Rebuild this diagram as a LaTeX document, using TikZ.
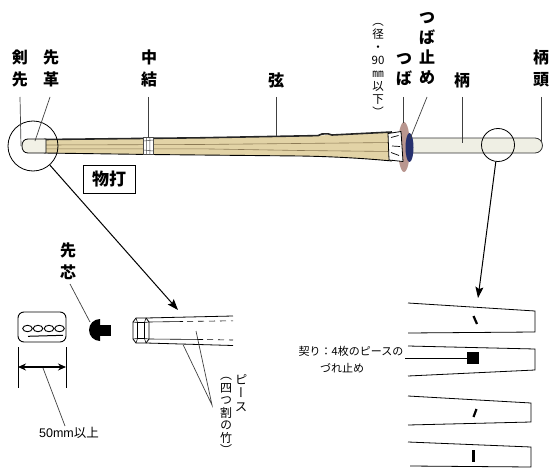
\documentclass[tikz,border=0pt]{standalone}
\usepackage{fontspec}
\usetikzlibrary{arrows.meta}
\newfontfamily\jp{Noto Sans CJK JP}
\newfontfamily\jpv[RawFeature=+vert]{Noto Sans CJK JP}
\newfontfamily\lat{Liberation Sans}
\definecolor{bamboo}{HTML}{E2D3A6}
\definecolor{seamcol}{HTML}{8C7A55}
\definecolor{capcol}{HTML}{F2F1E6}
\definecolor{gripcol}{HTML}{EFEFE4}
\definecolor{guardcol}{HTML}{B9968F}
\definecolor{stopcol}{HTML}{27316E}
\begin{document}
\begin{tikzpicture}[x=1pt,y=-1pt,
  leader/.style={draw=black!75,line width=0.7pt},
  outline/.style={draw=black,line width=0.8pt},
  seam/.style={draw=seamcol,line width=0.6pt},
  lbl/.style={font=\jp\bfseries\fontsize{16}{22.5}\selectfont,align=center,inner sep=0pt},
  vlbl/.style={font=\jp\bfseries\fontsize{16}{20}\selectfont,align=center,inner sep=0pt},
  small/.style={font=\jp\fontsize{11}{13}\selectfont,align=center,inner sep=0pt},
  vsmall/.style={font=\jpv\fontsize{11.5}{13}\selectfont,align=center,inner sep=0pt},
  arr/.style={line width=1pt,-{Stealth[length=11pt,width=8pt,inset=2pt]}},
  piece/.style={draw=black,line width=0.8pt},
  notch/.style={line width=2.2pt}]
\useasboundingbox (0,0) rectangle (551,468);

% ---------------- shinai: bamboo blade ----------------
\fill[bamboo] (44,139.5) -- (200,138) -- (320,135.5) -- (392,132) -- (392,161)
  .. controls (360,158) and (330,156.5) .. (300,156) -- (150,154.5) -- (44,153) -- cycle;
\draw[seam] (46,145) -- (200,144.5) -- (392,142.5);
\draw[seam] (46,148.8) -- (200,148.8) -- (300,150.5) -- (392,151.5);
\draw[outline,line width=0.9pt] (44,153) -- (150,154.5) -- (300,156)
  .. controls (330,156.5) and (360,158) .. (392,161);
% string along the top
\draw[line width=1.6pt,black!85] (44,139.5) -- (200,137.8) -- (318,135.6)
  -- (322,134) -- (328,133.8) -- (332,135) -- (392,132);

% middle tie
\filldraw[fill=white,draw=black!70,line width=0.5pt] (143.5,137.5) rectangle (153,154.5);
\draw[black!70,line width=0.5pt] (146.5,137.5) -- (146.5,154.5) (149.8,137.5) -- (149.8,154.5)
  (143.5,141) -- (153,140) (143.5,150) -- (153,151);

% tip leather cap
\filldraw[fill=capcol,draw=black,line width=0.8pt] (46,139) -- (28,139)
  .. controls (24,139) and (22,142) .. (22,146) .. controls (22,150) and (24,153) .. (28,153)
  -- (46,153) -- cycle;

% ---------------- guard, grip ----------------
\fill[guardcol] (404,147) ellipse (6 and 25);
\filldraw[fill=gripcol,draw=black!80,line width=0.8pt] (410,138) -- (535,138)
  arc[start angle=-90,end angle=90,radius=7.5] -- (410,153) -- cycle;
\fill[stopcol] (409.5,147.5) ellipse (4 and 14.5);
\filldraw[fill=white,draw=black,line width=0.8pt] (388,133.5) -- (401,131.5) -- (403,161.5) -- (389,160) -- cycle;
\draw[black,line width=0.7pt] (391,137.5) -- (398.5,135.5) (392,146) -- (400,146.5) (391,152.5) -- (399,155.5);

% magnifying rings
\node[circle,outline,minimum size=50pt,inner sep=0pt] (tipring) at (33,146) {};
\node[circle,outline,minimum size=33pt,inner sep=0pt] (gripring) at (498,145) {};

% ---------------- top labels ----------------
\node[lbl] (kensen) at (20,68.5) {剣\\先};
\node[lbl] (sakigawa) at (51,68.5) {先\\革};
\node[lbl] (nakayui) at (149,68.5) {中\\結};
\node[lbl] (tsuru) at (276,80) {弦};
\node[vlbl] (tsuba) at (404,69.5) {つ\\ば};
\node[vlbl] (tsubadome) at (427,48.5) {つ\\ば\\止\\め};
\node[lbl] (tsuka) at (462,80) {柄};
\node[lbl] (tsukagashira) at (541,68.5) {柄\\頭};
\node[vsmall] (tsubasize) at (378,70) {（\\径\\・\\90\\㎜\\以\\下\\）};

\coordinate (kensenTop) at (20,97);
\coordinate (kensenEnd) at (21,146);
\coordinate (sakigawaTop) at (50,97);
\coordinate (sakigawaEnd) at (35,141);
\coordinate (nakayuiTop) at (148.5,97);
\coordinate (nakayuiEnd) at (148.5,138);
\coordinate (tsuruTop) at (276,97);
\coordinate (tsuruEnd) at (276,136);
\coordinate (tsubaTop) at (403,97);
\coordinate (tsubaEnd) at (403,123);
\coordinate (tsubadomeTop) at (427,97);
\coordinate (tsubadomeEnd) at (410,139);
\coordinate (tsukaTop) at (462,97);
\coordinate (tsukaEnd) at (462,143);
\coordinate (tsukagashiraTop) at (541,97);
\coordinate (tsukagashiraEnd) at (541,142);

\draw[leader] (kensenTop) -- (kensenEnd);
\draw[leader] (sakigawaTop) -- (sakigawaEnd);
\draw[leader] (nakayuiTop) -- (nakayuiEnd);
\draw[leader] (tsuruTop) -- (tsuruEnd);
\draw[leader] (tsubaTop) -- (tsubaEnd);
\draw[leader] (tsubadomeTop) -- (tsubadomeEnd);
\draw[leader] (tsukaTop) -- (tsukaEnd);
\draw[leader] (tsukagashiraTop) -- (tsukagashiraEnd);

% striking zone
\node[outline,minimum width=52pt,minimum height=28pt,inner sep=0pt,
  font=\jp\bfseries\fontsize{17}{17}\selectfont] (monouchi) at (109,179) {物打};

% ---------------- arrows to the details ----------------
\coordinate (tipDetail) at (178,310);
\coordinate (jointDetail) at (478,298);
\draw[arr] (tipring) -- (tipDetail);
\draw[arr] (gripring) -- (jointDetail);

% ---------------- tip core and end plate ----------------
\node[draw=black,line width=0.9pt,rounded corners=6pt,minimum width=48pt,minimum height=30pt,inner sep=0pt] (plate) at (42,327) {};
\foreach \cx in {27.5,38,49,59.5}
  \draw[line width=0.9pt] (\cx,328.5) ellipse (4.8 and 3.2);
\draw[line width=1pt] (28,336.3) -- (63,335.3);
\coordinate (dimL) at (18,367);
\coordinate (dimR) at (66,367);
\draw[line width=0.8pt] (18,347) -- (18,388) (66,347) -- (66,388);
\draw[line width=1.2pt,{Stealth[length=8pt,width=7pt]}-{Stealth[length=8pt,width=7pt]}] (dimL) -- (dimR);
\node[small,font=\jp\fontsize{12.5}{14}\selectfont] (len) at (69,433) {{\lat 50mm}以上};
\coordinate (dimMid) at (43,368);
\coordinate (lenTop) at (65,426);
\draw[leader] (dimMid) -- (lenTop);

\node[lbl,font=\jp\bfseries\fontsize{16}{22}\selectfont] (sakishin) at (68,261) {先\\芯};
\fill (100,341) arc[start angle=90,end angle=270,radius=11] -- cycle;
\fill (99,324.5) rectangle (111,335.5);
\coordinate (sakishinBottom) at (70,284);
\coordinate (coreTop) at (90,322);
\draw[leader] (sakishinBottom) -- (coreTop);

% ---------------- shinai tip, four staves ----------------
\draw[line width=0.8pt] (136,318) -- (146,318) -- (149,322) -- (149,339) -- (146,343)
  -- (136,343) -- (133,339) -- (133,322) -- cycle;
\draw[line width=0.6pt] (137.5,322.5) rectangle (144.5,338.5)
  (136,318) -- (137.5,322.5) (146,318) -- (144.5,322.5)
  (136,343) -- (137.5,338.5) (146,343) -- (144.5,338.5)
  (133,322) -- (137.5,322.5) (149,322) -- (144.5,322.5)
  (133,339) -- (137.5,338.5) (149,339) -- (144.5,338.5);
\draw[line width=0.8pt] (146,318) -- (233,316);
\draw[line width=0.8pt] (146,343) -- (233,345.5);
\draw[line width=0.6pt] (149,322) -- (183,321.5);
\draw[line width=0.6pt,dash pattern=on 6pt off 5pt] (187,321.4) -- (233,320.8);
\draw[line width=0.6pt] (149,339) -- (203,339.5);
\draw[line width=0.6pt,dash pattern=on 6pt off 5pt] (207,339.6) -- (233,340);

\coordinate (staveA) at (183,344.5);
\coordinate (staveB) at (196,331);
\coordinate (staveMeet) at (212,405);
\draw[leader] (staveA) -- (staveMeet) -- (staveB);
\node[vsmall,font=\jpv\fontsize{12.5}{13.5}\selectfont] (piecelbl) at (241,393) {ピ\\ー\\ス};
\node[vsmall,font=\jpv\fontsize{12}{12.5}\selectfont] (piecenote) at (226,416) {（\\四\\つ\\割\\の\\竹\\）};

% ---------------- joint key on the staves ----------------
\draw[piece] (408,303) -- (535,311) -- (535,332) -- (408,333);
\draw[piece] (408,346) -- (535,349) -- (535,370) -- (408,376);
\draw[piece] (408,396) -- (531,403) -- (531,422) -- (408,425);
\draw[piece] (408,442) -- (531,447) -- (531,467) -- (410,466);
\draw[notch] (473.5,316) -- (477,324);
\draw[notch] (473.5,417) -- (476.5,409);
\draw[notch] (473.5,450) -- (473.5,462);
\node[fill=black,minimum size=12pt,inner sep=0pt] (key) at (473,358) {};
\node[small] (keylbl) at (351,351) {契り：4枚のピースの};
\node[small] (keylbl2) at (342,368) {づれ止め};
\coordinate (keyLineStart) at (405,358);
\draw[line width=0.8pt] (keyLineStart) -- (key.west);
\end{tikzpicture}
\end{document}
